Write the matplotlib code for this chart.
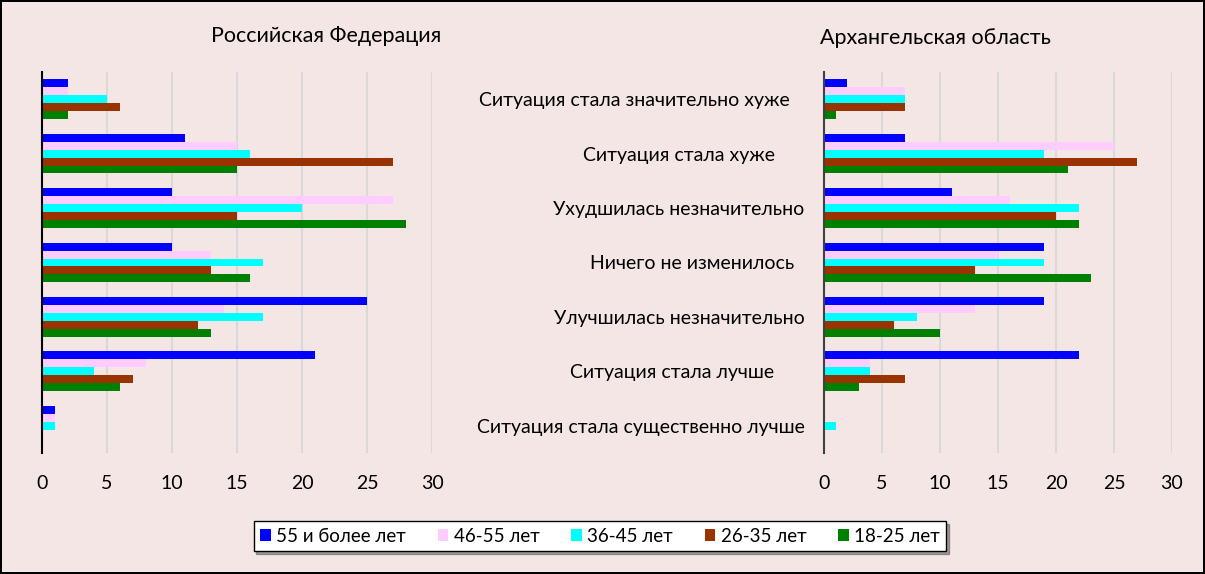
import matplotlib.pyplot as plt
import numpy as np

plt.rcParams['font.family'] = ['Lato', 'DejaVu Sans']

# Categories, top to bottom
categories = [
    "Ситуация стала значительно хуже   ",
    "Ситуация стала хуже      ",
    "Ухудшилась незначительно",
    "Ничего не изменилось  ",
    "Улучшилась незначительно",
    "Ситуация стала лучше      ",
    "Ситуация стала существенно лучше",
]

age_groups = ["55 и более лет", "46-55 лет", "36-45 лет", "26-35 лет", "18-25 лет"]
colors = ["#0000FF", "#FFCCFF", "#00FFFF", "#993300", "#008000"]

# Российская Федерация
rf_55 = [2, 11, 10, 10, 25, 21, 1]
rf_46 = [2, 15, 27, 13, 14, 8, 1]
rf_36 = [5, 16, 20, 17, 17, 4, 1]
rf_26 = [6, 27, 15, 13, 12, 7, 0]
rf_18 = [2, 15, 28, 16, 13, 6, 0]

# Архангельская область
ao_55 = [2, 7, 11, 19, 19, 22, 0]
ao_46 = [7, 25, 16, 15, 13, 4, 0]
ao_36 = [7, 19, 22, 19, 8, 4, 1]
ao_26 = [7, 27, 20, 13, 6, 7, 0]
ao_18 = [1, 21, 22, 23, 10, 3, 0]

rf = [rf_55, rf_46, rf_36, rf_26, rf_18]
ao = [ao_55, ao_46, ao_36, ao_26, ao_18]

bg = "#F5E6E6"
fig = plt.figure(figsize=(12.05, 5.74), dpi=100, facecolor=bg)
fig.patch.set_edgecolor("black")
fig.patch.set_linewidth(1.5)

ax1 = fig.add_axes([0.0349, 0.2108, 0.3237, 0.6638])
ax2 = fig.add_axes([0.6838, 0.2108, 0.2888, 0.6638])

y = np.arange(len(categories))
h = 0.146

def draw(ax, series):
    ax.set_facecolor(bg)
    handles = []
    for j, (vals, c) in enumerate(zip(series, colors)):
        b = ax.barh(y + (j - 2) * h, vals, height=h, color=c, zorder=3)
        handles.append(b)
    ax.set_xlim(0, 30)
    ax.set_xticks(np.arange(0, 31, 5))
    ax.set_ylim(len(categories) - 0.5, -0.5)
    ax.grid(axis="x", color="#D9D9D9", linewidth=1.5, zorder=0)
    for s in ["top", "right", "bottom"]:
        ax.spines[s].set_visible(False)
    ax.spines["left"].set_zorder(4)
    ax.tick_params(axis="x", length=0, pad=16, labelsize=14)
    ax.tick_params(axis="y", length=0)
    return handles

handles = draw(ax1, rf)
draw(ax2, ao)
ax1.spines["left"].set_color("black")
ax1.spines["left"].set_linewidth(1.5)
ax1.set_yticks([])
ax2.spines["left"].set_color("#404040")
ax2.spines["left"].set_linewidth(1.5)
ax2.set_yticks(y)
ax2.set_yticklabels(categories, fontsize=14)
ax2.tick_params(axis="y", pad=14)

fig.text(0.271, 0.938, "Российская Федерация", ha="center", va="center", fontsize=15.5)
fig.text(0.776, 0.933, "Архангельская область", ha="center", va="center", fontsize=15.5)

leg = fig.legend(handles, age_groups, loc="center", bbox_to_anchor=(0.498, 0.066),
                 ncol=5, fontsize=13.5, frameon=True, fancybox=False, shadow=True,
                 handlelength=0.55, handleheight=0.55, handletextpad=0.3,
                 columnspacing=1.7, borderpad=0.35)
leg.get_frame().set_edgecolor("black")
leg.get_frame().set_facecolor("white")

fig.savefig("out.png", dpi=100, facecolor=bg, edgecolor="black")
